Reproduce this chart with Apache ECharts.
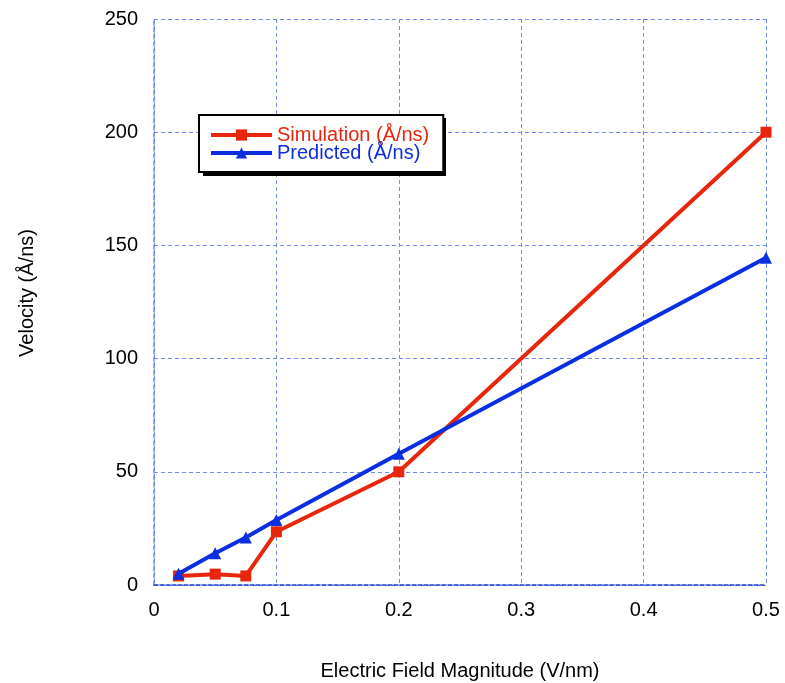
<!DOCTYPE html>
<html>
<head>
<meta charset="utf-8">
<script src="https://cdn.jsdelivr.net/npm/echarts@6/dist/echarts.min.js"></script>
<style>
  html, body { margin: 0; padding: 0; background: #fff; }
  #chart { width: 785px; height: 683px; }
</style>
</head>
<body>
<div id="chart"></div>
<script>
// Field strength (V/nm)
const fieldValues = [0.02, 0.05, 0.075, 0.1, 0.2, 0.5];
// Velocities (Å/ns)
const simulationVelocity = [4, 4.8, 4, 23.5, 50, 200];
const predictedVelocity = [5, 14, 21, 28.7, 58, 144.5];
const seriesNames = ['Simulation (Å/ns)', 'Predicted (Å/ns)'];

const RED = '#e8260c';
const BLUE = '#0b2ee0';
const GRID_BLUE = '#6f8cf0';
const FONT = 'Liberation Sans, Arial, Helvetica, sans-serif';

const chart = echarts.init(document.getElementById('chart'));

function pairs(xs, ys) {
  return xs.map((x, i) => [x, ys[i]]);
}

chart.setOption({
  animation: false,
  textStyle: { fontFamily: FONT },
  grid: { left: 154, right: 19, top: 19, bottom: 98, outerBoundsMode: 'none', containLabel: false },
  // drop shadow behind the legend box
  graphic: [{
    type: 'rect', z: 1, silent: true,
    shape: { x: 203, y: 118, width: 243, height: 58 },
    style: { fill: '#000' }
  }],
  legend: {
    left: 199, top: 115,
    orient: 'vertical',
    itemWidth: 61, itemHeight: 14, itemGap: -2,
    padding: [10, 14, 9, 10],
    backgroundColor: '#fff',
    borderColor: '#000', borderWidth: 2,
    lineStyle: { width: 4 },
    textStyle: { fontSize: 20, lineHeight: 19, fontFamily: FONT },
    z: 5,
    data: [
      { name: seriesNames[0], textStyle: { color: RED } },
      { name: seriesNames[1], textStyle: { color: BLUE } }
    ]
  },
  xAxis: {
    type: 'value', min: 0, max: 0.5, interval: 0.1,
    name: 'Electric Field Magnitude (V/nm)',
    nameLocation: 'middle', nameGap: 76,
    nameTextStyle: { fontSize: 20, color: '#000' },
    axisLine: { show: true, lineStyle: { color: '#2040d0', type: [4, 2], width: 1.5 } },
    axisTick: { show: false },
    axisLabel: { fontSize: 20, color: '#000', margin: 15 },
    splitLine: { show: true, lineStyle: { color: GRID_BLUE, type: [4, 3], width: 1 } }
  },
  yAxis: {
    type: 'value', min: 0, max: 250, interval: 50,
    name: 'Velocity (Å/ns)',
    nameLocation: 'middle', nameGap: 117,
    nameTextStyle: { fontSize: 20, color: '#000', padding: [0, 0, 0, 18] },
    axisLine: { show: true, lineStyle: { color: GRID_BLUE, type: [4, 3], width: 1.5 } },
    axisTick: { show: false },
    axisLabel: { fontSize: 20, color: '#000', margin: 16 },
    splitLine: { show: true, lineStyle: { color: GRID_BLUE, type: [4, 3], width: 1 } }
  },
  series: [
    {
      name: seriesNames[0], type: 'line',
      data: pairs(fieldValues, simulationVelocity),
      symbol: 'rect', symbolSize: 11,
      lineStyle: { color: RED, width: 4 },
      itemStyle: { color: RED },
      z: 3
    },
    {
      name: seriesNames[1], type: 'line',
      data: pairs(fieldValues, predictedVelocity),
      symbol: 'triangle', symbolSize: 12,
      lineStyle: { color: BLUE, width: 4 },
      itemStyle: { color: BLUE },
      z: 4
    }
  ]
});
</script>
</body>
</html>
